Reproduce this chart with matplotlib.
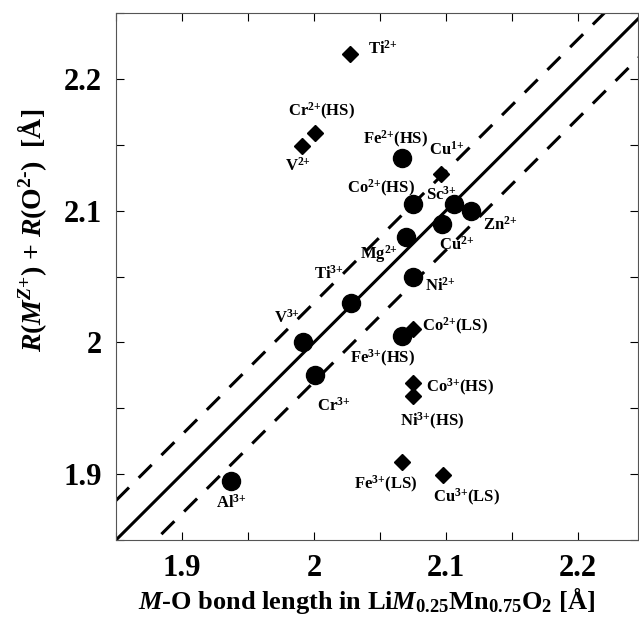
import numpy as np
import matplotlib
matplotlib.use("Agg")
import matplotlib.pyplot as plt
from matplotlib.ticker import MultipleLocator, FuncFormatter

# police serif grasse, comme la figure d'origine
plt.rcParams['font.family'] = 'Liberation Serif'
plt.rcParams['font.weight'] = 'bold'
plt.rcParams['mathtext.fontset'] = 'custom'
plt.rcParams['mathtext.rm'] = 'Liberation Serif:bold'
plt.rcParams['mathtext.bf'] = 'Liberation Serif:bold'
plt.rcParams['mathtext.it'] = 'Liberation Serif:bold:italic'
plt.rcParams['mathtext.bfit'] = 'Liberation Serif:bold:italic'

# Ions en octaedre (cercles)
circ_ions = ['Fe$^{2{+}}$(HS)', 'Co$^{2{+}}$(HS)', 'Sc$^{3{+}}$', 'Zn$^{2{+}}$', 'Cu$^{2{+}}$',
             'Mg$^{2{+}}$', 'Ni$^{2{+}}$', 'Ti$^{3{+}}$', 'V$^{3{+}}$', 'Cr$^{3{+}}$',
             'Fe$^{3{+}}$(HS)', 'Al$^{3{+}}$']
circ_x = [2.067, 2.075, 2.106, 2.119, 2.097, 2.070, 2.075, 2.028, 1.992, 2.001, 2.067, 1.937]
circ_y = [2.140, 2.105, 2.105, 2.100, 2.090, 2.080, 2.050, 2.030, 2.000, 1.975, 2.005, 1.895]

# Ions hors droite (losanges)
diam_ions = ['Ti$^{2{+}}$', 'Cr$^{2{+}}$(HS)', 'V$^{2{+}}$', 'Cu$^{1{+}}$', 'Co$^{2{+}}$(LS)',
             'Co$^{3{+}}$(HS)', 'Ni$^{3{+}}$(HS)', 'Fe$^{3{+}}$(LS)', 'Cu$^{3{+}}$(LS)']
diam_x = [2.027, 2.001, 1.991, 2.096, 2.075, 2.075, 2.075, 2.067, 2.098]
diam_y = [2.219, 2.159, 2.149, 2.128, 2.010, 1.969, 1.959, 1.909, 1.899]

# position des etiquettes (coin gauche, milieu vertical)
lab_ions = ['Ti$^{2{+}}$', 'Cr$^{2{+}}$(HS)', 'V$^{2{+}}$', 'Fe$^{2{+}}$(HS)', 'Cu$^{1{+}}$',
            'Co$^{2{+}}$(HS)', 'Sc$^{3{+}}$', 'Zn$^{2{+}}$', 'Cu$^{2{+}}$', 'Mg$^{2{+}}$',
            'Ti$^{3{+}}$', 'Ni$^{2{+}}$', 'V$^{3{+}}$', 'Co$^{2{+}}$(LS)', 'Fe$^{3{+}}$(HS)',
            'Co$^{3{+}}$(HS)', 'Cr$^{3{+}}$', 'Ni$^{3{+}}$(HS)', 'Fe$^{3{+}}$(LS)',
            'Cu$^{3{+}}$(LS)', 'Al$^{3{+}}$']
lab_x = [2.041, 1.980, 1.978, 2.037, 2.087, 2.025, 2.085, 2.128, 2.095, 2.035,
         2.000, 2.084, 1.970, 2.082, 2.027, 2.085, 2.002, 2.065, 2.030, 2.090, 1.926]
lab_y = [2.223, 2.175, 2.134, 2.154, 2.146, 2.117, 2.112, 2.089, 2.074, 2.067,
         2.052, 2.043, 2.019, 2.012, 1.988, 1.966, 1.952, 1.940, 1.892, 1.882, 1.878]

# droite y = x et bande +/- 0.03
ligne = [1.85, 2.25]
ecart = 0.03

fig = plt.figure(figsize=(6.39, 6.26), dpi=100)
ax = fig.add_axes([116/639, 86/626, 522/639, 527/626])

ax.plot(ligne, ligne, 'k-', lw=2.2, solid_capstyle='butt')
ax.plot(ligne, np.array(ligne) + ecart, 'k', lw=2.2, dashes=(6, 4.5))
ax.plot(ligne, np.array(ligne) - ecart, 'k', lw=2.2, dashes=(6, 4.5))

ax.plot(circ_x, circ_y, 'ko', ms=13, ls='none')
ax.plot(diam_x, diam_y, 'kD', ms=8.2, ls='none')

for nom, x, y in zip(lab_ions, lab_x, lab_y):
    ax.text(x, y, nom, fontsize=12, fontweight='bold', ha='left', va='center')

ax.set_xlim(1.85, 2.2455)
ax.set_ylim(1.85, 2.25)

fmt = FuncFormatter(lambda v, p: '%g' % round(v, 2))
for axe in (ax.xaxis, ax.yaxis):
    axe.set_major_locator(MultipleLocator(0.1))
    axe.set_minor_locator(MultipleLocator(0.05))
    axe.set_major_formatter(fmt)
ax.tick_params(which='both', direction='in', top=True, right=True, length=6, width=0.8,
               labelsize=22, pad=10)
for s in ax.spines.values():
    s.set_linewidth(0.8)
    s.set_color('#555555')

# Affichage des titres d'axes
fig.text(367/639, 1 - 609/626,
         r'$\mathbfit{M}$-O bond length in Li$\mathbfit{M}_{0.25}$Mn$_{0.75}$O$_2$ [Å]',
         fontsize=19, fontweight='bold', ha='center', va='baseline')
fig.text(32/639, 1 - 230/626,
         r'$\mathbfit{R}$($\mathbfit{M}^{Z{+}}$) + $\mathbfit{R}$(O$^{2\text{-}}$)  [Å]',
         fontsize=20, fontweight='bold', ha='center', va='center', rotation=90)

fig.savefig('out.png', dpi=100)
